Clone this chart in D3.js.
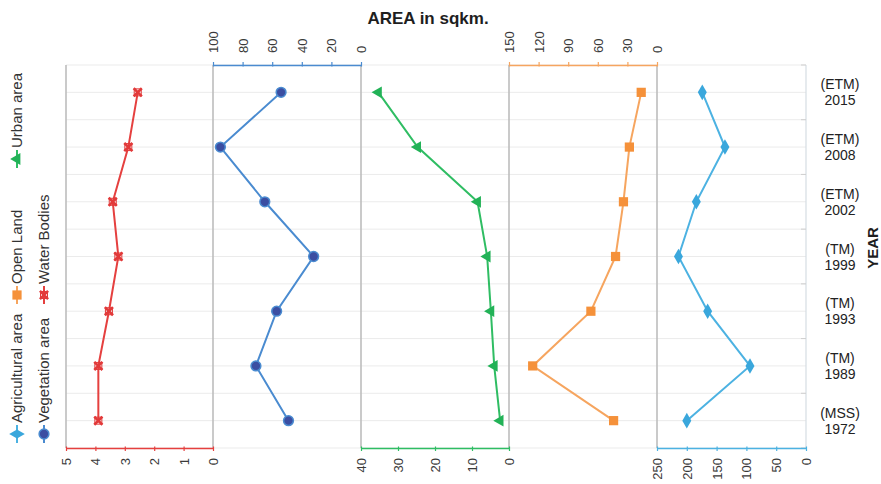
<!DOCTYPE html>
<html>
<head>
<meta charset="utf-8">
<script src="https://cdn.jsdelivr.net/npm/d3@7"></script>
<style>
  html, body { margin: 0; padding: 0; background: #fff; }
  svg { display: block; font-family: "Liberation Sans", Arial, sans-serif; }
</style>
</head>
<body>
<svg id="chart" width="881" height="484"></svg>
<script>
// ---- data ----
const years = ["2015", "2008", "2002", "1999", "1993", "1989", "1972"];
const sensors = ["(ETM)", "(ETM)", "(ETM)", "(TM)", "(TM)", "(TM)", "(MSS)"];
const waterBodies = [2.56, 2.88, 3.41, 3.22, 3.54, 3.90, 3.90];
const vegetationArea = [54, 95, 65, 32, 57, 71, 49];
const urbanArea = [35.3, 24.7, 8.5, 5.9, 4.9, 4.0, 2.4];
const openLand = [16, 28, 34, 42, 67, 126, 44];
const agriculturalArea = [174, 136, 184, 214, 165, 94, 200];
const waterTicks = [0, 1, 2, 3, 4, 5];
const vegetationTicks = [0, 20, 40, 60, 80, 100];
const urbanTicks = [0, 10, 20, 30, 40];
const openTicks = [0, 30, 60, 90, 120, 150];
const agriTicks = [0, 50, 100, 150, 200, 250];
const legendNames = ["Agricultural area", "Open Land", "Urban area", "Vegetation area", "Water Bodies"];

// ---- layout ----
const svg = d3.select("#chart");
const plotTop = 65, plotBottom = 448;
const y = d3.scaleBand().domain(years).range([plotTop, plotBottom]);
const yc = d => y(d) + y.bandwidth() / 2;

const panels = [
  { name: "Water Bodies", values: waterBodies, ticks: waterTicks, x0: 66, x1: 213, axis: "bottom",
    line: "#e5403f", fill: "#e23a3a", marker: "x" },
  { name: "Vegetation area", values: vegetationArea, ticks: vegetationTicks, x0: 213, x1: 361, axis: "top",
    line: "#4a8bd0", fill: "#3b4ea2", marker: "circle" },
  { name: "Urban area", values: urbanArea, ticks: urbanTicks, x0: 361, x1: 509, axis: "bottom",
    line: "#2fbd63", fill: "#22b257", marker: "triangle" },
  { name: "Open Land", values: openLand, ticks: openTicks, x0: 509, x1: 657, axis: "top",
    line: "#f6a55f", fill: "#f5913a", marker: "square" },
  { name: "Agricultural area", values: agriculturalArea, ticks: agriTicks, x0: 657, x1: 806, axis: "bottom",
    line: "#4cb2e2", fill: "#3aa7dc", marker: "diamond" }
];

// gridlines (category centres and band boundaries)
const gridYs = [];
years.forEach(d => { gridYs.push(y(d)); gridYs.push(yc(d)); });
gridYs.push(plotBottom);
svg.append("g").selectAll("line").data(gridYs).join("line")
  .attr("x1", 66).attr("x2", 806)
  .attr("y1", d => d).attr("y2", d => d)
  .attr("stroke", "#ebebeb").attr("stroke-width", 1);

// right edge & its ticks
svg.append("line").attr("x1", 806).attr("x2", 806).attr("y1", plotTop).attr("y2", plotBottom)
  .attr("stroke", "#d6dde3").attr("stroke-width", 1.2);
svg.append("g").selectAll("line").data(years.map(d => y(d)).concat([plotBottom])).join("line")
  .attr("x1", 801).attr("x2", 806).attr("y1", d => d).attr("y2", d => d)
  .attr("stroke", "#cfcfcf");

// panel separators
svg.append("g").selectAll("line").data(panels).join("line")
  .attr("x1", p => p.x0).attr("x2", p => p.x0)
  .attr("y1", plotTop).attr("y2", plotBottom)
  .attr("stroke", "#bdbdbd").attr("stroke-width", 1.6);

function markerPath(type) {
  switch (type) {
    case "x": return d3.symbol().type(d3.symbolX).size(45)();
    case "circle": return d3.symbol().type(d3.symbolCircle).size(75)();
    case "triangle": return d3.symbol().type(d3.symbolTriangle).size(60)();
    case "square": return d3.symbol().type(d3.symbolSquare).size(85)();
    case "diamond": return d3.symbol().type(d3.symbolDiamond).size(70)();
  }
}
function drawMarker(g, p, cx, cy, rot) {
  const m = g.append("path").attr("d", markerPath(p.marker))
    .attr("transform", `translate(${cx},${cy})` + (rot ? ` rotate(${rot})` : ""));
  if (p.marker === "x") {
    m.attr("fill", "none").attr("stroke", p.fill).attr("stroke-width", 2.6);
    g.append("rect").attr("x", cx - 3.5).attr("y", cy - 3.5).attr("width", 7).attr("height", 7)
      .attr("fill", "none").attr("stroke", p.fill).attr("stroke-width", 1);
  } else if (p.marker === "circle") {
    m.attr("fill", p.fill).attr("stroke", p.line).attr("stroke-width", 1.5);
  } else {
    m.attr("fill", p.fill);
  }
}

panels.forEach(p => {
  const x = d3.scaleLinear().domain([0, d3.max(p.ticks)]).range([p.x1, p.x0]);
  const g = svg.append("g");
  // axis
  const axis = (p.axis === "top" ? d3.axisTop(x) : d3.axisBottom(x))
    .tickValues(p.ticks).tickSizeInner(3).tickSizeOuter(0).tickFormat(d3.format("d"));
  const ag = svg.append("g")
    .attr("transform", `translate(0,${p.axis === "top" ? plotTop : plotBottom})`)
    .call(axis);
  ag.select(".domain").attr("stroke", p.line).attr("stroke-width", 1.6);
  ag.selectAll(".tick line").attr("stroke", p.line).attr("stroke-width", 1.2)
    .attr("y1", p.axis === "top" ? 1.5 : -1.5);
  ag.selectAll(".tick text")
    .attr("fill", "#3a3a3a").attr("font-size", 13)
    .attr("font-family", "'Liberation Sans', Arial, sans-serif")
    .attr("transform", "rotate(-90)")
    .attr("y", 0).attr("dy", "0.35em")
    .attr("x", p.axis === "top" ? 12 : -10)
    .attr("text-anchor", p.axis === "top" ? "start" : "end");
  // series line
  const line = d3.line().x(d => x(d.v)).y(d => yc(d.year));
  const data = years.map((yr, i) => ({ year: yr, v: p.values[i] }));
  g.append("path").datum(data).attr("d", line)
    .attr("fill", "none").attr("stroke", p.line).attr("stroke-width", 2);
  data.forEach(d => drawMarker(g, p, x(d.v), yc(d.year), p.marker === "triangle" ? -90 : 0));
});

// year labels
const yl = svg.append("g").selectAll("text").data(years).join("text")
  .attr("x", 840).attr("text-anchor", "middle")
  .attr("font-size", 14).attr("fill", "#222");
yl.append("tspan").attr("x", 840).attr("y", d => yc(d) - 3).text((d, i) => sensors[i]);
yl.append("tspan").attr("x", 840).attr("y", d => yc(d) + 13).text(d => d);

// titles
svg.append("text").attr("x", 428).attr("y", 24).attr("text-anchor", "middle")
  .attr("font-size", 17).attr("font-weight", "bold").attr("fill", "#1e1e1e")
  .text("AREA in sqkm.");
svg.append("text").attr("transform", "translate(878,248) rotate(-90)")
  .attr("text-anchor", "middle").attr("font-size", 15).attr("font-weight", "bold").attr("fill", "#1e1e1e")
  .text("YEAR");

// legend (rotated)
const legendPos = {
  "Agricultural area": [17, 443],
  "Open Land": [17, 304],
  "Urban area": [17, 168],
  "Vegetation area": [44, 443],
  "Water Bodies": [44, 304]
};
legendNames.forEach(name => {
  const p = panels.find(q => q.name === name);
  const [lx, ly] = legendPos[name];
  const lg = svg.append("g").attr("transform", `translate(${lx},${ly}) rotate(-90)`);
  lg.append("line").attr("x1", 0).attr("x2", 18).attr("y1", 0).attr("y2", 0)
    .attr("stroke", p.line).attr("stroke-width", 2);
  drawMarker(lg.append("g"), p, 9, 0, 0);
  lg.append("text").attr("x", 20).attr("y", 0).attr("dy", "0.36em")
    .attr("font-size", 15).attr("fill", "#333").text(name);
});
</script>
</body>
</html>
